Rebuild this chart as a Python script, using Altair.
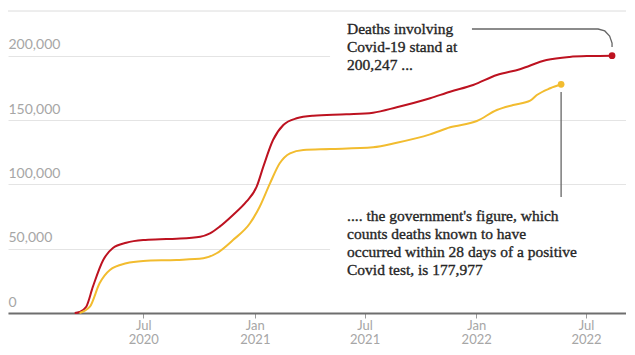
import altair as alt
import pandas as pd

# ---- data ----
red_dates = ["2020-03-10", "2020-03-18", "2020-03-29", "2020-04-09", "2020-04-26", "2020-05-12",
             "2020-06-03", "2020-07-01", "2020-07-29", "2020-08-25", "2020-10-03", "2020-10-19",
             "2020-11-04", "2020-11-26", "2020-12-18", "2021-01-04", "2021-01-15", "2021-01-31",
             "2021-02-17", "2021-03-11", "2021-04-07", "2021-06-01", "2021-07-15", "2021-08-23",
             "2021-10-17", "2021-11-19", "2021-12-27", "2022-02-04", "2022-03-14", "2022-04-27",
             "2022-06-04", "2022-07-08", "2022-08-13"]
red_values = [0, 800, 4900, 20500, 41200, 50600,
              54700, 56800, 57350, 57800, 59400, 62000,
              67200, 76300, 86600, 98300, 113900, 134600,
              146300, 151500, 153500, 154600, 155900, 160100,
              167100, 172200, 177400, 185200, 189700, 196900,
              199300, 200000, 200247]

yellow_dates = ["2020-03-18", "2020-04-04", "2020-04-20", "2020-05-07", "2020-06-03", "2020-07-01",
                "2020-08-25", "2020-10-08", "2020-10-30", "2020-11-26", "2020-12-24", "2021-01-09",
                "2021-01-26", "2021-02-11", "2021-02-28", "2021-03-22", "2021-05-05", "2021-07-15",
                "2021-08-23", "2021-10-17", "2021-11-19", "2022-01-02", "2022-02-04", "2022-03-03",
                "2022-03-31", "2022-04-11", "2022-05-03", "2022-05-21"]
yellow_values = [0, 4900, 23100, 33500, 38700, 40500,
                 41300, 42600, 46500, 56800, 69800, 82700,
                 100900, 116500, 124300, 126900, 127600, 129000,
                 132500, 139000, 144500, 149400, 158000, 161900,
                 165200, 169600, 174900, 177977]

series_names = ["Deaths involving Covid-19", "Government figure"]
series_colors = ["#bd1220", "#f2bc2f"]
dot_colors = ["#cc0a1e", "#f2bc2f"]

y_ticks = [0, 50000, 100000, 150000, 200000]
x_tick_dates = [(2020, 7, 1), (2021, 1, 1), (2021, 7, 1), (2022, 1, 1), (2022, 7, 1)]
x_domain = [(2019, 11, 21), (2022, 9, 5)]
y_max = 237350
top_line_value = 235000

note_red = ["Deaths involving", "Covid-19 stand at", "200,247 ..."]
note_yellow = [".... the government's figure, which", "counts deaths known to have",
               "occurred within 28 days of a positive", "Covid test, is 177,977"]
note_anchor_date = "2021-06-02"
note_red_value = 217100
note_yellow_value = 71600

# white boxes behind the notes (data space)
box_x = ["2021-05-05", "2021-05-05"]
box_x2 = ["2022-09-05", "2022-09-05"]
box_y = [184400, 19500]
box_y2 = [232000, 87900]

# leader lines (data space)
lead_red_dates = ["2021-12-25", "2022-07-21", "2022-08-01", "2022-08-09", "2022-08-13", "2022-08-13"]
lead_red_values = [221000, 221000, 219500, 215550, 210100, 207000]
lead_yellow_dates = ["2022-05-21", "2022-05-21"]
lead_yellow_values = [172000, 90300]

# ---- tables ----
lines_df = pd.DataFrame({
    "date": red_dates + yellow_dates,
    "value": red_values + yellow_values,
    "series": [series_names[0]] * len(red_dates) + [series_names[1]] * len(yellow_dates),
})
ends_df = pd.DataFrame({
    "date": [red_dates[-1], yellow_dates[-1]],
    "value": [red_values[-1], yellow_values[-1]],
    "series": series_names,
})
boxes_df = pd.DataFrame({"x": box_x, "x2": box_x2, "y": box_y, "y2": box_y2})
top_df = pd.DataFrame({"value": [top_line_value]})
lead_df = pd.DataFrame({
    "date": lead_red_dates + lead_yellow_dates,
    "value": lead_red_values + lead_yellow_values,
    "grp": ["r"] * len(lead_red_dates) + ["y"] * len(lead_yellow_dates),
    "ord": list(range(len(lead_red_dates))) + list(range(len(lead_yellow_dates))),
})
notes_df = pd.DataFrame({
    "date": [note_anchor_date, note_anchor_date],
    "value": [note_red_value, note_yellow_value],
    "text": [note_red, note_yellow],
})


def dt(t):
    return alt.DateTime(year=t[0], month=t[1], date=t[2], utc=True)


xscale = alt.Scale(type="utc", domain=[dt(x_domain[0]), dt(x_domain[1])])
yscale = alt.Scale(domain=[0, y_max], nice=False)

x_axis = alt.Axis(
    values=[dt(t) for t in x_tick_dates],
    labelExpr="[utcFormat(datum.value, '%b'), utcFormat(datum.value, '%Y')]",
    labelFont="Lato", labelFontSize=13, labelColor="#a6a6a6", labelLineHeight=14.5,
    labelBaseline="top", labelPadding=1,
    domainColor="#6e6e6e", domainWidth=2,
    tickColor="#9a9a9a", tickSize=5, tickWidth=1,
    grid=False, title=None,
)
y_axis = alt.Axis(
    values=y_ticks, labelExpr="format(datum.value, ',')", orient="left",
    labelAlign="left", labelBaseline="alphabetic", labelOffset=-7, labelPadding=0,
    labelFont="Lato", labelFontSize=14, labelColor="#a6a6a6",
    ticks=False, tickSize=0, domain=False,
    grid=True, gridColor="#e4e4e4", gridWidth=1, title=None,
)

color = alt.Color("series:N", scale=alt.Scale(domain=series_names, range=series_colors), legend=None)

base_x = alt.X("date:T", scale=xscale, axis=x_axis)
base_y = alt.Y("value:Q", scale=yscale, axis=y_axis)

boxes = alt.Chart(boxes_df).mark_rect(color="white").encode(
    x=alt.X("x:T", scale=xscale, axis=x_axis), x2="x2:T",
    y=alt.Y("y:Q", scale=yscale, axis=y_axis), y2="y2:Q",
)
top_rule = alt.Chart(top_df).mark_rule(color="#dcdcdc", strokeWidth=1).encode(
    y=alt.Y("value:Q", scale=yscale, axis=y_axis)
)
lines = alt.Chart(lines_df).mark_line(strokeWidth=2, interpolate="monotone").encode(
    x=base_x, y=base_y, color=color, detail="series:N"
)
leads = alt.Chart(lead_df).mark_line(color="#666666", strokeWidth=1.3).encode(
    x=base_x, y=base_y, detail="grp:N", order="ord:Q"
)
dots = alt.Chart(ends_df).mark_circle(size=45, opacity=1).encode(
    x=base_x, y=base_y,
    color=alt.Color("series:N", scale=alt.Scale(domain=series_names, range=dot_colors), legend=None),
)
notes = alt.Chart(notes_df).mark_text(
    align="left", baseline="alphabetic", font="Liberation Serif", fontSize=15.5,
    lineHeight=18, color="#262626", stroke="#262626", strokeWidth=0.35,
).encode(x=base_x, y=base_y, text="text")

chart = alt.layer(boxes, top_rule, lines, leads, dots, notes).properties(
    width=618, height=305,
    autosize=alt.AutoSizeParams(type="none"),
    padding={"left": 0, "top": 0, "right": 0, "bottom": 33},
).configure_view(stroke=None)

chart.save("out.html", embed_options={"renderer": "svg", "actions": False})
